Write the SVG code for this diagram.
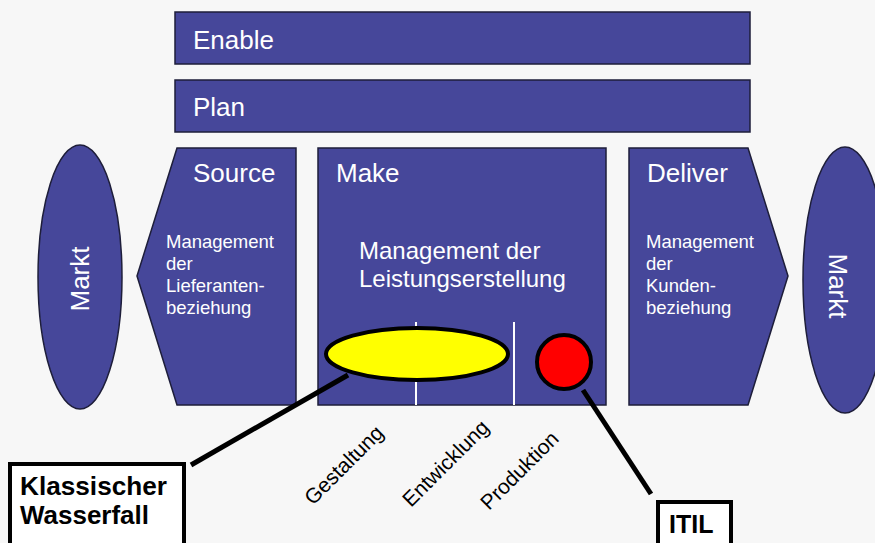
<svg xmlns="http://www.w3.org/2000/svg" width="875" height="543" viewBox="0 0 875 543">
<style>
.box{fill:#46479A;stroke:#1E1E3A;stroke-width:1.5}
.t{font-family:"Liberation Sans",Arial,sans-serif;fill:#FFFFFF}
.title{font-size:26px}
.body{font-size:18.5px}
.lbl{font-family:"Liberation Sans",Arial,sans-serif;fill:#000000;font-size:21px}
.bold{font-family:"Liberation Sans",Arial,sans-serif;fill:#000000;font-size:25px;font-weight:bold}
.conn{stroke:#000000;stroke-width:5;fill:none}
.frame{fill:#FFFFFF;stroke:#000000;stroke-width:4}
</style>
<rect width="875" height="543" fill="#F7F7F7"/>
<g id="enable">
<rect class="box" x="175" y="12" width="575" height="52"/>
<text class="t title" x="193" y="49">Enable</text>
</g>
<g id="plan">
<rect class="box" x="175" y="80" width="575" height="52"/>
<text class="t title" x="193" y="116">Plan</text>
</g>
<g id="markt-left">
<ellipse class="box" cx="80" cy="277" rx="42" ry="132"/>
<text class="t title" transform="translate(89,279) rotate(-90)" text-anchor="middle">Markt</text>
</g>
<g id="source">
<polygon class="box" points="177,148 296,148 296,405 177,405 137,276"/>
<text class="t title" x="193" y="182">Source</text>
<text class="t body" x="166" y="248">Management</text>
<text class="t body" x="166" y="270">der</text>
<text class="t body" x="166" y="292">Lieferanten-</text>
<text class="t body" x="166" y="314">beziehung</text>
</g>
<g id="make">
<rect class="box" x="318" y="148" width="288" height="257"/>
<text class="t title" x="336" y="182">Make</text>
<text class="t" font-size="24" x="359" y="259">Management der</text>
<text class="t" font-size="24" x="359" y="287">Leistungserstellung</text>
<line x1="416" y1="322" x2="416" y2="405" stroke="#FFFFFF" stroke-width="2"/>
<line x1="514" y1="322" x2="514" y2="405" stroke="#FFFFFF" stroke-width="2"/>
</g>
<g id="deliver">
<polygon class="box" points="629,148 748,148 788,276 748,405 629,405"/>
<text class="t title" x="647" y="182">Deliver</text>
<text class="t body" x="646" y="248">Management</text>
<text class="t body" x="646" y="270">der</text>
<text class="t body" x="646" y="292">Kunden-</text>
<text class="t body" x="646" y="314">beziehung</text>
</g>
<g id="markt-right">
<ellipse class="box" cx="845" cy="280" rx="42" ry="133"/>
<text class="t title" transform="translate(829,286) rotate(90)" text-anchor="middle">Markt</text>
</g>
<g id="connectors">
<line class="conn" x1="348" y1="375" x2="191" y2="465"/>
<line class="conn" x1="583" y1="390" x2="651" y2="494"/>
</g>
<g id="wasserfall-ellipse">
<ellipse cx="417" cy="354" rx="91" ry="26" fill="#FFFF00" stroke="#000000" stroke-width="4"/>
</g>
<g id="itil-circle">
<circle cx="564" cy="362" r="27" fill="#FF0000" stroke="#000000" stroke-width="4"/>
</g>
<g id="phase-labels">
<text class="lbl" transform="translate(313,506) rotate(-45)">Gestaltung</text>
<text class="lbl" transform="translate(411,508) rotate(-45)">Entwicklung</text>
<text class="lbl" transform="translate(489,511) rotate(-45)">Produktion</text>
</g>
<g id="klassischer-wasserfall">
<rect class="frame" x="10" y="464" width="174" height="90"/>
<text class="bold" x="20" y="495" textLength="147" lengthAdjust="spacingAndGlyphs">Klassischer</text>
<text class="bold" x="20" y="524" textLength="129" lengthAdjust="spacingAndGlyphs">Wasserfall</text>
</g>
<g id="itil">
<rect class="frame" x="658" y="502" width="73" height="60"/>
<text class="bold" x="669" y="533">ITIL</text>
</g>
</svg>
